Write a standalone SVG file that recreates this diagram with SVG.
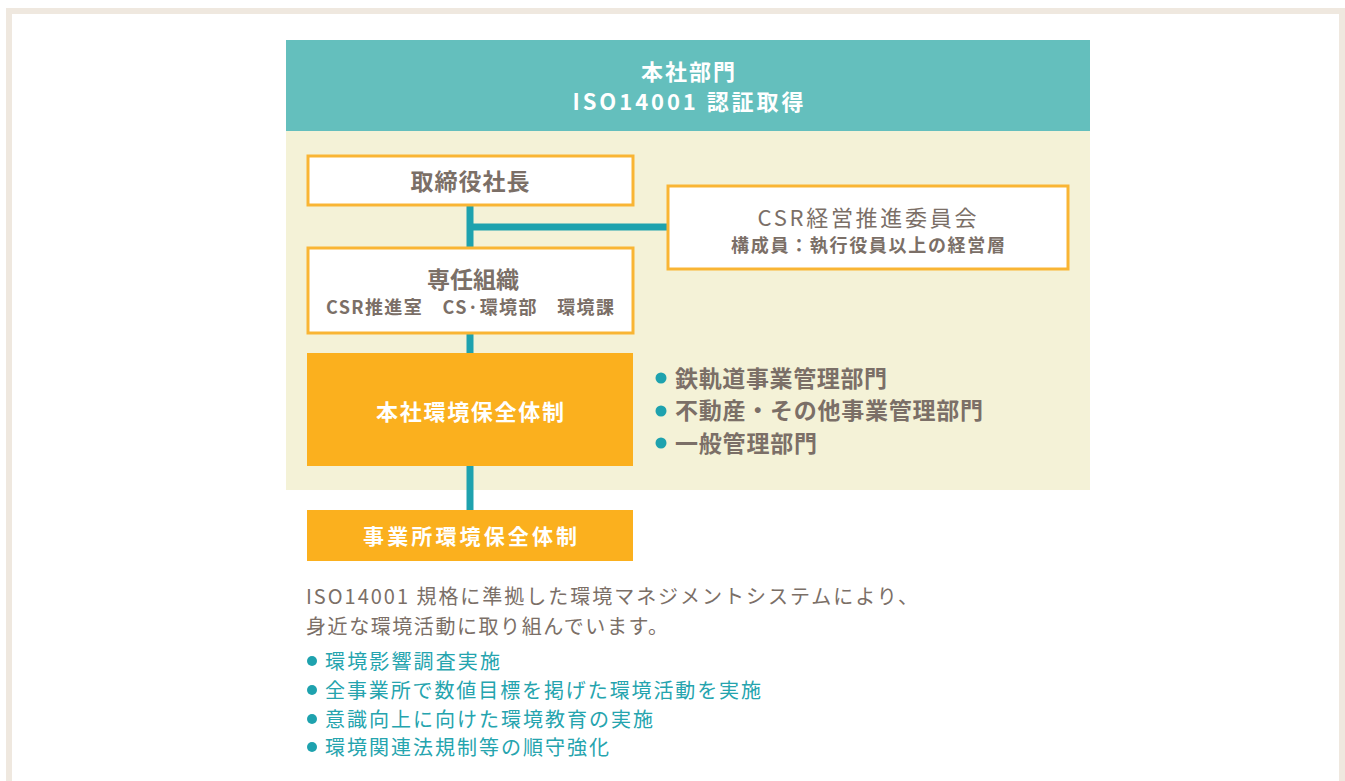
<svg xmlns="http://www.w3.org/2000/svg" width="1345" height="781" viewBox="0 0 1345 781">
<style>
text{font-family:"Noto Sans CJK JP","Noto Sans",sans-serif;}
.w{fill:#ffffff;font-weight:bold;}
.g{fill:#7b6f67;font-weight:bold;}
.gn{fill:#7b6f67;}
.t{fill:#25a4ae;}
.box{fill:#ffffff;stroke:#f9b534;stroke-width:3;}
.obox{fill:#fbb01e;}
.conn{stroke:#1ea2ae;stroke-width:7;fill:none;}
</style>
<rect x="0" y="0" width="1345" height="781" fill="#ffffff"/>
<rect x="9" y="11" width="1333" height="780" fill="none" stroke="#efe8df" stroke-width="6"/>
<g id="panel">
<rect x="286" y="131" width="804" height="359" fill="#f4f2d7"/>
</g>
<g id="connectors">
<line class="conn" x1="470" y1="205" x2="470" y2="247"/>
<line class="conn" x1="470" y1="227" x2="668" y2="227"/>
<line class="conn" x1="470" y1="333" x2="470" y2="353"/>
<line class="conn" x1="470" y1="466" x2="470" y2="510"/>
</g>
<g id="header">
<rect x="286" y="40" width="804" height="91" fill="#64bfbd"/>
<text class="w" x="688" y="80" font-size="22" text-anchor="middle" textLength="94" lengthAdjust="spacing">本社部門</text>
<text class="w" x="688" y="110" font-size="22" text-anchor="middle" textLength="231" lengthAdjust="spacing">ISO14001 認証取得</text>
</g>
<g id="president">
<rect class="box" x="308" y="156" width="325" height="49"/>
<text class="g" x="470" y="190" font-size="23" text-anchor="middle" textLength="119" lengthAdjust="spacing">取締役社長</text>
</g>
<g id="csr-committee">
<rect class="box" x="668" y="186" width="400" height="83"/>
<text class="gn" x="867" y="226" font-size="22" text-anchor="middle" textLength="219" lengthAdjust="spacing">CSR経営推進委員会</text>
<text class="g" x="868" y="252" font-size="18" text-anchor="middle" textLength="274" lengthAdjust="spacing">構成員：執行役員以上の経営層</text>
</g>
<g id="dedicated">
<rect class="box" x="308" y="248" width="325" height="85"/>
<text class="g" x="473" y="288" font-size="23" text-anchor="middle" textLength="92" lengthAdjust="spacing">専任組織</text>
<text class="g" x="470" y="314" font-size="18" text-anchor="middle" textLength="288" lengthAdjust="spacing">CSR推進室　CS·環境部　環境課</text>
</g>
<g id="hq-env">
<rect class="obox" x="307" y="353" width="326" height="113"/>
<text class="w" x="470" y="420" font-size="22" text-anchor="middle" textLength="188" lengthAdjust="spacing">本社環境保全体制</text>
</g>
<g id="hq-depts">
<circle cx="661" cy="378" r="5.5" fill="#1ea2ae"/>
<circle cx="661" cy="411" r="5.5" fill="#1ea2ae"/>
<circle cx="661" cy="443" r="5.5" fill="#1ea2ae"/>
<text class="g" x="675" y="387" font-size="23" textLength="212" lengthAdjust="spacing">鉄軌道事業管理部門</text>
<text class="g" x="675" y="419" font-size="23" textLength="308" lengthAdjust="spacing">不動産・その他事業管理部門</text>
<text class="g" x="675" y="452" font-size="23" textLength="142" lengthAdjust="spacing">一般管理部門</text>
</g>
<g id="site-env">
<rect class="obox" x="307" y="510" width="326" height="51"/>
<text class="w" x="470" y="544" font-size="21" text-anchor="middle" textLength="214" lengthAdjust="spacing">事業所環境保全体制</text>
</g>
<g id="description">
<text class="gn" x="306" y="604" font-size="20" textLength="612" lengthAdjust="spacing">ISO14001 規格に準拠した環境マネジメントシステムにより、</text>
<text class="gn" x="306" y="634" font-size="20" textLength="362" lengthAdjust="spacing">身近な環境活動に取り組んでいます。</text>
</g>
<g id="activities">
<circle cx="312" cy="661" r="5" fill="#1ea2ae"/>
<circle cx="312" cy="690" r="5" fill="#1ea2ae"/>
<circle cx="312" cy="719" r="5" fill="#1ea2ae"/>
<circle cx="312" cy="747" r="5" fill="#1ea2ae"/>
<text class="t" x="325" y="669" font-size="20" textLength="175" lengthAdjust="spacing">環境影響調査実施</text>
<text class="t" x="325" y="698" font-size="20" textLength="436" lengthAdjust="spacing">全事業所で数値目標を掲げた環境活動を実施</text>
<text class="t" x="325" y="727" font-size="20" textLength="328" lengthAdjust="spacing">意識向上に向けた環境教育の実施</text>
<text class="t" x="325" y="755" font-size="20" textLength="284" lengthAdjust="spacing">環境関連法規制等の順守強化</text>
</g>
</svg>
